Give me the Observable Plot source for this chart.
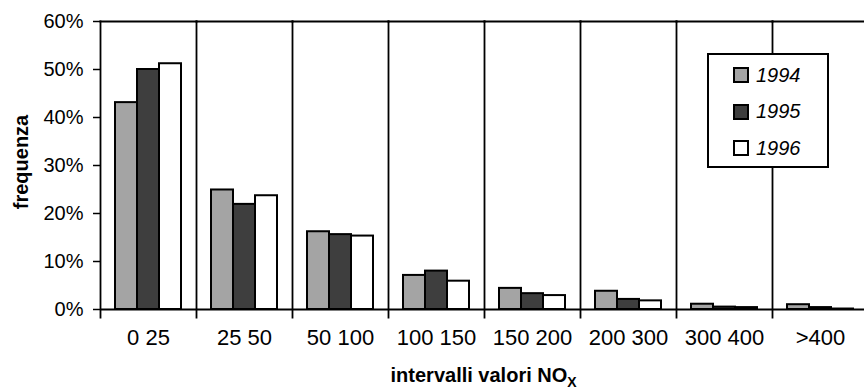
<!DOCTYPE html>
<html>
<head>
<meta charset="utf-8">
<script src="https://cdn.jsdelivr.net/npm/d3@7"></script>
<script src="https://cdn.jsdelivr.net/npm/@observablehq/plot@0.6"></script>
<style>
  html, body { margin: 0; padding: 0; overflow: hidden; background: #fff; }
  #wrap { position: relative; width: 869px; height: 389px; font-family: "Liberation Sans", Arial, sans-serif; }
  #wrap svg { max-width: none !important; display: block; }
  #legend { position: absolute; left: 707px; top: 53px; width: 118px; height: 111px; border: 2px solid #000; background: #fff; box-sizing: content-box; }
  .item { position: absolute; left: 24px; height: 20px; display: flex; align-items: center; }
  .sw { width: 12px; height: 12px; border: 2px solid #000; margin-right: 7px; }
  .lab { font-style: italic; font-size: 20px; color: #000; }
</style>
</head>
<body>
<div id="wrap"></div>
<script>
const categories = ["0 25", "25 50", "50 100", "100 150", "150 200", "200 300", "300 400", ">400"];
const years = ["1994", "1995", "1996"];
const v1994 = [0.431, 0.249, 0.162, 0.071, 0.044, 0.038, 0.011, 0.010];
const v1995 = [0.500, 0.219, 0.156, 0.080, 0.033, 0.021, 0.005, 0.004];
const v1996 = [0.512, 0.237, 0.153, 0.059, 0.029, 0.018, 0.004, 0.001];
const colors = ["#a4a4a4", "#3e3e3e", "#ffffff"];
const yTicks = [0, 0.1, 0.2, 0.3, 0.4, 0.5, 0.6];

const series = [v1994, v1995, v1996];
const data = categories.flatMap((c, i) => years.map((y, j) => ({category: c, year: y, value: series[j][i]})));

const chart = Plot.plot({
  width: 869,
  height: 389,
  marginLeft: 98,
  marginRight: 0,
  marginTop: 21,
  marginBottom: 80,
  style: {fontFamily: "Liberation Sans, Arial, sans-serif", color: "#000", background: "#fff"},
  fx: {domain: categories, padding: 0, label: null},
  x: {domain: years, paddingInner: 0, paddingOuter: 0.66, axis: null},
  y: {domain: [0, 0.6], label: null},
  color: {domain: years, range: colors},
  marks: [
    Plot.frame({anchor: "top", stroke: "#000", strokeWidth: 2}),
    Plot.frame({anchor: "left", stroke: "#000", strokeWidth: 1.8, insetBottom: -8}),
    Plot.barY(data, {fx: "category", x: "year", y: "value", fill: "year", stroke: "#000", strokeWidth: 2, inset: 0}),
    Plot.ruleY([0], {stroke: "#000", strokeWidth: 2}),
    Plot.axisY(yTicks, {tickFormat: d3.format(".0%"), tickSize: 7, tickPadding: 10, fontSize: 20, label: null, strokeWidth: 1.5}),
    Plot.axisFx({anchor: "bottom", tickSize: 0, tickPadding: 20, fontSize: 22, label: null})
  ]
});

const svg = d3.select(chart);
const xt = svg.append("text")
  .attr("x", 483.6).attr("y", 382)
  .attr("text-anchor", "middle")
  .attr("font-weight", "bold").attr("font-size", 20)
  .attr("fill", "#000")
  .text("intervalli valori NO");
xt.append("tspan").attr("dy", 5).attr("font-size", 14).text("X");

svg.append("text")
  .attr("transform", "translate(28,162) rotate(-90)")
  .attr("text-anchor", "middle")
  .attr("font-weight", "bold").attr("font-size", 20)
  .attr("fill", "#000")
  .text("frequenza");

const wrap = document.getElementById("wrap");
wrap.appendChild(chart);

const legend = d3.select(wrap).append("div").attr("id", "legend");
years.forEach((y, i) => {
  const it = legend.append("div").attr("class", "item").style("top", (10 + i * 36.5) + "px");
  it.append("div").attr("class", "sw").style("background", colors[i]);
  it.append("span").attr("class", "lab").text(y);
});
</script>
</body>
</html>
